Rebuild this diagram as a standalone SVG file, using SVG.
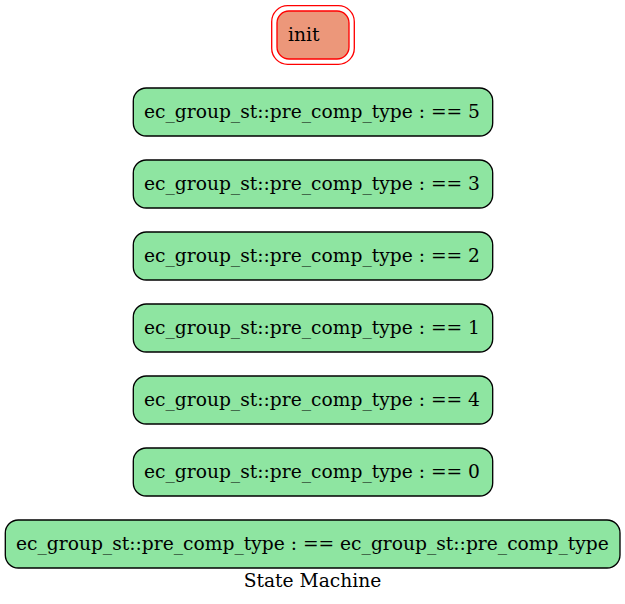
<svg xmlns="http://www.w3.org/2000/svg" width="625" height="604" viewBox="0 0 625 604">
<style>
text{font-family:"DejaVu Serif",serif;font-size:18.67px;fill:#000}
.st rect{fill:#8ee5a1;stroke:#000;stroke-width:1.33}
.init .in{fill:#ec977a;stroke:#ff0000;stroke-width:1.33}
.init .out{fill:none;stroke:#ff0000;stroke-width:1.33}
</style>
<rect width="625" height="604" fill="#fff"/>
<g id="connectors"></g>
<g id="init" class="init">
<rect class="out" x="271.7" y="5.7" width="82.6" height="58.6" rx="16" ry="16"/>
<rect class="in" x="277" y="11" width="72" height="48" rx="12" ry="12"/>
<text x="288" y="41">init</text>
</g>
<g id="s5" class="st"><rect x="133.3" y="88" width="359.4" height="48" rx="13" ry="13"/><text x="144" y="118">ec_group_st::pre_comp_type : == 5</text></g>
<g id="s3" class="st"><rect x="133.3" y="160" width="359.4" height="48" rx="13" ry="13"/><text x="144" y="190">ec_group_st::pre_comp_type : == 3</text></g>
<g id="s2" class="st"><rect x="133.3" y="232" width="359.4" height="48" rx="13" ry="13"/><text x="144" y="262">ec_group_st::pre_comp_type : == 2</text></g>
<g id="s1" class="st"><rect x="133.3" y="304" width="359.4" height="48" rx="13" ry="13"/><text x="144" y="334">ec_group_st::pre_comp_type : == 1</text></g>
<g id="s4" class="st"><rect x="133.3" y="376" width="359.4" height="48" rx="13" ry="13"/><text x="144" y="406">ec_group_st::pre_comp_type : == 4</text></g>
<g id="s0" class="st"><rect x="133.3" y="448" width="359.4" height="48" rx="13" ry="13"/><text x="144" y="478">ec_group_st::pre_comp_type : == 0</text></g>
<g id="sx" class="st"><rect x="5.3" y="520" width="614.7" height="48" rx="13" ry="13"/><text x="16" y="550">ec_group_st::pre_comp_type : == ec_group_st::pre_comp_type</text></g>
<text x="312.5" y="587" text-anchor="middle">State Machine</text>
</svg>
